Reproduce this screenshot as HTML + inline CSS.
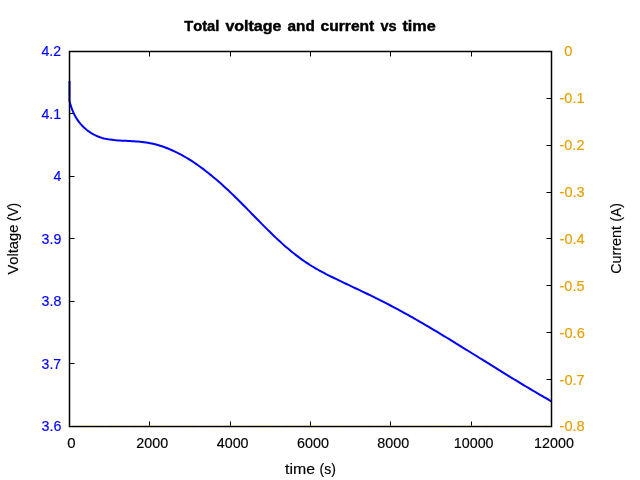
<!DOCTYPE html>
<html lang="en"><head><meta charset="utf-8"><title>Total voltage and current vs time</title>
<style>
html,body{margin:0;padding:0;background:#fff;}
body{width:640px;height:480px;overflow:hidden;}
svg{display:block;will-change:transform;}
text{font-family:"Liberation Sans",sans-serif;font-size:14.13px;font-kerning:none;}
.b{fill:#0000ff;stroke:#0000ff;}.o{fill:#e69f00;stroke:#e69f00;}.k{fill:#000;stroke:#000;}
text{stroke-width:0.16px;stroke-linejoin:round;}
.t{font-weight:bold;stroke-width:0.42px;}
</style></head><body>
<svg width="640" height="480" viewBox="0 0 640 480">
<rect x="0" y="0" width="640" height="480" fill="#fff"/>
<g stroke="#000" stroke-width="1.0" fill="none" stroke-linecap="butt">
<path d="M149.5,426.5 V421.5"/>
<path d="M149.5,51.5 V56.5"/>
<path d="M230.5,426.5 V421.5"/>
<path d="M230.5,51.5 V56.5"/>
<path d="M310.5,426.5 V421.5"/>
<path d="M310.5,51.5 V56.5"/>
<path d="M390.5,426.5 V421.5"/>
<path d="M390.5,51.5 V56.5"/>
<path d="M471.5,426.5 V421.5"/>
<path d="M471.5,51.5 V56.5"/>
<path d="M69.5,113.5 H74.5"/>
<path d="M69.5,176.5 H74.5"/>
<path d="M69.5,238.5 H74.5"/>
<path d="M69.5,301.5 H74.5"/>
<path d="M69.5,363.5 H74.5"/>
<path d="M551.5,98.5 H546.5"/>
<path d="M551.5,145.5 H546.5"/>
<path d="M551.5,192.5 H546.5"/>
<path d="M551.5,238.5 H546.5"/>
<path d="M551.5,285.5 H546.5"/>
<path d="M551.5,332.5 H546.5"/>
<path d="M551.5,379.5 H546.5"/>
</g>
<path d="M69.50,80.90 L69.50,100.91 L69.65,101.50 L69.80,102.08 L69.95,102.65 L70.10,103.20 L70.25,103.74 L70.40,104.26 L70.55,104.77 L70.70,105.27 L70.85,105.76 L71.00,106.24 L71.15,106.70 L71.30,107.15 L71.45,107.60 L71.60,108.03 L71.75,108.46 L71.90,108.87 L72.05,109.28 L72.20,109.67 L72.35,110.06 L72.50,110.44 L72.65,110.82 L72.80,111.18 L72.95,111.54 L73.10,111.89 L73.25,112.23 L73.40,112.57 L73.55,112.90 L73.70,113.23 L73.85,113.55 L74.00,113.86 L74.15,114.17 L74.30,114.47 L74.45,114.77 L74.60,115.06 L74.75,115.35 L74.90,115.63 L75.00,115.82 L75.50,116.72 L76.00,117.58 L76.50,118.39 L77.00,119.17 L77.50,119.92 L78.00,120.63 L78.50,121.32 L79.00,121.98 L79.50,122.61 L80.00,123.22 L80.50,123.82 L81.00,124.39 L81.50,124.94 L82.00,125.48 L82.50,126.00 L83.00,126.50 L83.50,126.99 L84.00,127.47 L84.50,127.93 L85.00,128.38 L85.50,128.82 L86.00,129.24 L86.50,129.66 L87.00,130.06 L87.50,130.45 L88.00,130.83 L88.50,131.20 L89.00,131.56 L89.50,131.91 L90.00,132.25 L90.50,132.58 L91.00,132.90 L91.50,133.22 L92.00,133.52 L94.00,134.65 L96.00,135.65 L98.00,136.53 L100.00,137.29 L102.00,137.91 L104.00,138.42 L106.00,138.85 L108.00,139.21 L110.00,139.52 L112.00,139.79 L114.00,140.03 L116.00,140.22 L118.00,140.39 L120.00,140.53 L122.00,140.65 L124.00,140.76 L126.00,140.87 L128.00,140.97 L130.00,141.08 L132.00,141.19 L134.00,141.31 L136.00,141.45 L138.00,141.60 L140.00,141.78 L142.00,141.98 L144.00,142.22 L146.00,142.49 L148.00,142.81 L150.00,143.16 L152.00,143.57 L154.00,144.02 L156.00,144.52 L158.00,145.07 L160.00,145.67 L162.00,146.31 L164.00,147.00 L166.00,147.74 L168.00,148.52 L170.00,149.34 L172.00,150.21 L174.00,151.12 L176.00,152.08 L178.00,153.08 L180.00,154.12 L182.00,155.20 L184.00,156.32 L186.00,157.49 L188.00,158.69 L190.00,159.93 L192.00,161.21 L194.00,162.53 L196.00,163.89 L198.00,165.28 L200.00,166.71 L202.00,168.17 L204.00,169.67 L206.00,171.20 L208.00,172.76 L210.00,174.36 L212.00,175.99 L214.00,177.65 L216.00,179.34 L218.00,181.06 L220.00,182.81 L222.00,184.59 L224.00,186.40 L226.00,188.24 L228.00,190.10 L230.00,191.99 L232.00,193.90 L234.00,195.84 L236.00,197.79 L238.00,199.77 L240.00,201.76 L242.00,203.77 L244.00,205.79 L246.00,207.82 L248.00,209.85 L250.00,211.90 L252.00,213.94 L254.00,215.98 L256.00,218.03 L258.00,220.06 L260.00,222.10 L262.00,224.12 L264.00,226.13 L266.00,228.13 L268.00,230.11 L270.00,232.08 L272.00,234.02 L274.00,235.95 L276.00,237.85 L278.00,239.72 L280.00,241.56 L282.00,243.37 L284.00,245.15 L286.00,246.90 L288.00,248.61 L290.00,250.29 L292.00,251.93 L294.00,253.53 L296.00,255.10 L298.00,256.64 L300.00,258.13 L302.00,259.58 L304.00,261.00 L306.00,262.37 L308.00,263.70 L310.00,264.99 L312.00,266.24 L314.00,267.44 L316.00,268.61 L318.00,269.75 L320.00,270.86 L322.00,271.93 L324.00,272.99 L326.00,274.02 L328.00,275.03 L330.00,276.03 L332.00,277.01 L334.00,277.99 L336.00,278.96 L338.00,279.92 L340.00,280.88 L342.00,281.84 L344.00,282.79 L346.00,283.75 L348.00,284.70 L350.00,285.64 L352.00,286.59 L354.00,287.54 L356.00,288.49 L358.00,289.44 L360.00,290.39 L362.00,291.35 L364.00,292.30 L366.00,293.26 L368.00,294.23 L370.00,295.19 L372.00,296.17 L374.00,297.15 L376.00,298.13 L378.00,299.12 L380.00,300.12 L382.00,301.13 L384.00,302.14 L386.00,303.16 L388.00,304.20 L390.00,305.24 L392.00,306.29 L394.00,307.35 L396.00,308.41 L398.00,309.49 L400.00,310.57 L402.00,311.66 L404.00,312.76 L406.00,313.87 L408.00,314.98 L410.00,316.10 L412.00,317.23 L414.00,318.36 L416.00,319.50 L418.00,320.65 L420.00,321.80 L422.00,322.96 L424.00,324.12 L426.00,325.29 L428.00,326.46 L430.00,327.64 L432.00,328.83 L434.00,330.02 L436.00,331.21 L438.00,332.41 L440.00,333.61 L442.00,334.82 L444.00,336.03 L446.00,337.24 L448.00,338.46 L450.00,339.68 L452.00,340.90 L454.00,342.12 L456.00,343.35 L458.00,344.58 L460.00,345.82 L462.00,347.05 L464.00,348.29 L466.00,349.53 L468.00,350.77 L470.00,352.01 L472.00,353.25 L474.00,354.49 L476.00,355.74 L478.00,356.98 L480.00,358.23 L482.00,359.47 L484.00,360.72 L486.00,361.96 L488.00,363.20 L490.00,364.45 L492.00,365.69 L494.00,366.93 L496.00,368.17 L498.00,369.41 L500.00,370.65 L502.00,371.88 L504.00,373.12 L506.00,374.35 L508.00,375.58 L510.00,376.81 L512.00,378.03 L514.00,379.25 L516.00,380.47 L518.00,381.68 L520.00,382.90 L522.00,384.10 L524.00,385.31 L526.00,386.51 L528.00,387.70 L530.00,388.89 L532.00,390.08 L534.00,391.26 L536.00,392.44 L538.00,393.61 L540.00,394.78 L542.00,395.94 L544.00,397.09 L546.00,398.24 L548.00,399.38 L550.00,400.52 L551.50,401.37" stroke="#0000ff" stroke-width="2.0" fill="none" stroke-linejoin="round" stroke-linecap="butt"/>
<rect x="69.5" y="51.5" width="482.0" height="375.00" stroke="#000" stroke-width="1.5" fill="none"/>
<path d="M70.25,425.5 H550.75" stroke="rgb(214,199,165)" stroke-width="1" stroke-dasharray="9.74 2" stroke-dashoffset="5.15" fill="none"/>
<rect x="149.0" y="425" width="1" height="1" fill="rgb(86,60,0)"/>
<rect x="230.0" y="425" width="1" height="1" fill="rgb(86,60,0)"/>
<rect x="310.0" y="425" width="1" height="1" fill="rgb(86,60,0)"/>
<rect x="390.0" y="425" width="1" height="1" fill="rgb(86,60,0)"/>
<rect x="471.0" y="425" width="1" height="1" fill="rgb(86,60,0)"/>
<text y="30.75" class="k t" font-size="14.13"><tspan x="184.29" textLength="35.00" lengthAdjust="spacingAndGlyphs">Total</tspan> <tspan x="225.44" textLength="55.86" lengthAdjust="spacingAndGlyphs">voltage</tspan> <tspan x="287.55" textLength="27.21" lengthAdjust="spacingAndGlyphs">and</tspan> <tspan x="320.54" textLength="53.80" lengthAdjust="spacingAndGlyphs">current</tspan> <tspan x="380.44" textLength="16.15" lengthAdjust="spacingAndGlyphs">vs</tspan> <tspan x="402.45" textLength="33.35" lengthAdjust="spacingAndGlyphs">time</tspan></text>
<text y="448.00" class="k" font-size="14.13"><tspan x="67.27" textLength="8.32" lengthAdjust="spacingAndGlyphs">0</tspan></text>
<text y="448.00" class="k" font-size="14.13"><tspan x="136.34" textLength="31.90" lengthAdjust="spacingAndGlyphs">2000</tspan></text>
<text y="448.00" class="k" font-size="14.13"><tspan x="216.74" textLength="31.83" lengthAdjust="spacingAndGlyphs">4000</tspan></text>
<text y="448.00" class="k" font-size="14.13"><tspan x="296.95" textLength="31.96" lengthAdjust="spacingAndGlyphs">6000</tspan></text>
<text y="448.00" class="k" font-size="14.13"><tspan x="377.37" textLength="31.87" lengthAdjust="spacingAndGlyphs">8000</tspan></text>
<text y="448.00" class="k" font-size="14.13"><tspan x="453.79" textLength="39.78" lengthAdjust="spacingAndGlyphs">10000</tspan></text>
<text y="448.00" class="k" font-size="14.13"><tspan x="534.13" textLength="39.78" lengthAdjust="spacingAndGlyphs">12000</tspan></text>
<text y="56.00" class="b" font-size="14.13"><tspan x="41.43" textLength="19.53" lengthAdjust="spacingAndGlyphs">4.2</tspan></text>
<text y="119.00" class="b" font-size="14.13"><tspan x="41.43" textLength="19.61" lengthAdjust="spacingAndGlyphs">4.1</tspan></text>
<text y="181.00" class="b" font-size="14.13"><tspan x="53.43" textLength="7.82" lengthAdjust="spacingAndGlyphs">4</tspan></text>
<text y="244.00" class="b" font-size="14.13"><tspan x="41.57" textLength="19.74" lengthAdjust="spacingAndGlyphs">3.9</tspan></text>
<text y="306.00" class="b" font-size="14.13"><tspan x="41.58" textLength="19.71" lengthAdjust="spacingAndGlyphs">3.8</tspan></text>
<text y="369.00" class="b" font-size="14.13"><tspan x="41.58" textLength="19.57" lengthAdjust="spacingAndGlyphs">3.7</tspan></text>
<text y="431.00" class="b" font-size="14.13"><tspan x="41.57" textLength="19.80" lengthAdjust="spacingAndGlyphs">3.6</tspan></text>
<text y="56.00" class="o" font-size="14.13"><tspan x="564.38" textLength="8.14" lengthAdjust="spacingAndGlyphs">0</tspan></text>
<text y="103.00" class="o" font-size="14.13"><tspan x="559.56" textLength="24.95" lengthAdjust="spacingAndGlyphs">-0.1</tspan></text>
<text y="150.00" class="o" font-size="14.13"><tspan x="559.56" textLength="24.86" lengthAdjust="spacingAndGlyphs">-0.2</tspan></text>
<text y="197.00" class="o" font-size="14.13"><tspan x="559.56" textLength="25.05" lengthAdjust="spacingAndGlyphs">-0.3</tspan></text>
<text y="244.00" class="o" font-size="14.13"><tspan x="559.55" textLength="25.16" lengthAdjust="spacingAndGlyphs">-0.4</tspan></text>
<text y="291.00" class="o" font-size="14.13"><tspan x="559.56" textLength="24.92" lengthAdjust="spacingAndGlyphs">-0.5</tspan></text>
<text y="338.00" class="o" font-size="14.13"><tspan x="559.55" textLength="25.29" lengthAdjust="spacingAndGlyphs">-0.6</tspan></text>
<text y="385.00" class="o" font-size="14.13"><tspan x="559.55" textLength="25.07" lengthAdjust="spacingAndGlyphs">-0.7</tspan></text>
<text y="431.00" class="o" font-size="14.13"><tspan x="559.55" textLength="25.21" lengthAdjust="spacingAndGlyphs">-0.8</tspan></text>
<text y="473.80" class="k" font-size="14.13"><tspan x="285.11" textLength="29.94" lengthAdjust="spacingAndGlyphs">time</tspan> <tspan x="319.48" textLength="16.39" lengthAdjust="spacingAndGlyphs">(s)</tspan></text>
<text transform="translate(18.00,0) rotate(-90)" y="0" class="k" font-size="14.13"><tspan x="-274.61" textLength="50.12" lengthAdjust="spacingAndGlyphs">Voltage</tspan> <tspan x="-221.20" textLength="18.30" lengthAdjust="spacingAndGlyphs">(V)</tspan></text>
<text transform="translate(621.10,0) rotate(-90)" y="0" class="k" font-size="14.13"><tspan x="-273.88" textLength="47.94" lengthAdjust="spacingAndGlyphs">Current</tspan> <tspan x="-221.39" textLength="18.08" lengthAdjust="spacingAndGlyphs">(A)</tspan></text>
</svg>
</body></html>
